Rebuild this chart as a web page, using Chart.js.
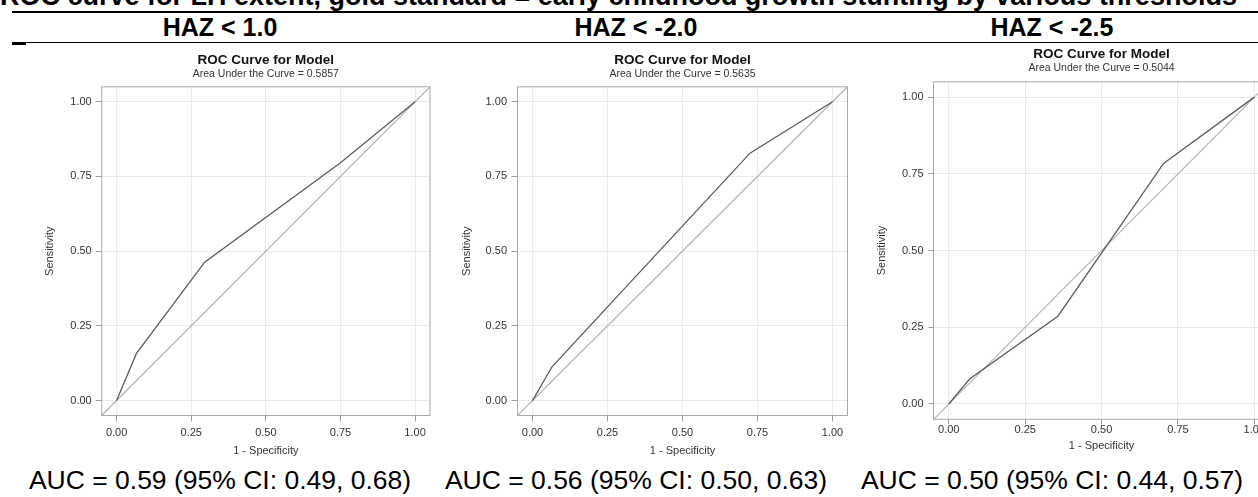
<!DOCTYPE html>
<html>
<head>
<meta charset="utf-8">
<script src="https://cdn.jsdelivr.net/npm/chart.js@4.4.1/dist/chart.umd.min.js"></script>
<style>
  body { margin: 0; width: 1258px; height: 497px; overflow: hidden; background: #fff; position: relative;
         font-family: "Liberation Sans", Arial, sans-serif; color: #000; }
  #title { position: absolute; left: 0; top: -17px; font-size: 27px; line-height: 27px; font-weight: bold; white-space: nowrap; }
  .rule { position: absolute; background: #000; }
  .haz { position: absolute; top: 12px; height: 30px; line-height: 30px; width: 416px; text-align: center; font-size: 25px; font-weight: bold; }
  .auc { position: absolute; top: 465px; height: 30px; line-height: 30px; width: 416px; text-align: center; font-size: 26.5px; white-space: nowrap; }
  canvas { position: absolute; }
</style>
</head>
<body>
<div id="title">ROC curve for LH extent, gold standard = early childhood growth stunting by various thresholds</div>
<div class="rule" style="left:12px; top:11px; width:1246px; height:2px;"></div>
<div class="rule" style="left:12px; top:42px; width:1246px; height:1px;"></div>
<div class="rule" style="left:12px; top:42px; width:14px; height:3px;"></div>
<div id="heads"></div>

<canvas id="roc1" width="433" height="418" style="left:0px; top:46px;"></canvas>
<canvas id="roc2" width="420" height="418" style="left:433px; top:46px;"></canvas>
<canvas id="roc3" width="420" height="420" style="left:853px; top:40px;"></canvas>

<script>
// thresholds and summary statistics
const thresholds = ['HAZ < 1.0', 'HAZ < -2.0', 'HAZ < -2.5'];
const modelAuc = ['0.5857', '0.5635', '0.5044'];
const aucEst = ['0.59', '0.56', '0.50'];
const ciLow = ['0.49', '0.50', '0.44'];
const ciHigh = ['0.68', '0.63', '0.57'];

// ROC curve points (1 - specificity, sensitivity)
const fpr1 = [0, 0.066, 0.295, 0.749, 1];
const tpr1 = [0, 0.157, 0.463, 0.795, 1];
const fpr2 = [0, 0.065, 0.725, 1];
const tpr2 = [0, 0.113, 0.828, 1];
const fpr3 = [0, 0.069, 0.357, 0.703, 1];
const tpr3 = [0, 0.082, 0.286, 0.784, 1];

// chance line and axis ticks
const diagRef = [-0.05, 1.05];
const tickVals = [0, 0.25, 0.5, 0.75, 1];

Chart.defaults.font.family = '"Liberation Sans", Arial, sans-serif';
Chart.defaults.color = '#333';

// column headings and AUC lines under each panel
const heads = document.getElementById('heads');
thresholds.forEach(function (t, i) {
	const h = document.createElement('div');
	h.className = 'haz';
	h.style.left = (12 + i * 416) + 'px';
	h.textContent = t;
	heads.appendChild(h);

	const a = document.createElement('div');
	a.className = 'auc';
	a.style.left = (12 + i * 416) + 'px';
	a.textContent = 'AUC = ' + aucEst[i] + ' (95% CI: ' + ciLow[i] + ', ' + ciHigh[i] + ')';
	heads.appendChild(a);
});

// box around the plot area
const frame = {
	id: 'frame',
	afterDatasetsDraw(chart) {
		const { ctx, chartArea: a } = chart;
		ctx.save();
		ctx.strokeStyle = '#a8a8a8';
		ctx.lineWidth = 1;
		ctx.strokeRect(a.left, a.top, a.width, a.height);
		ctx.restore();
	}
};

function axis(title, g, horizontal) {
	return {
		type: 'linear',
		min: -0.05,
		max: 1.05,
		afterBuildTicks: s => { s.ticks = tickVals.map(v => ({ value: v })); },
		afterFit: s => {
			if (horizontal) s.height = g.xHeight; else s.width = g.yWidth;
		},
		ticks: {
			callback: v => v.toFixed(2),
			padding: horizontal ? g.xTickPad : g.yTickPad,
			color: '#333',
			font: { size: 11 },
			maxRotation: 0,
			autoSkip: false
		},
		grid: { color: '#e9e9e9', tickColor: '#9a9a9a', tickLength: g.tickLen },
		border: { display: false },
		title: {
			display: true,
			text: title,
			color: '#333',
			font: { size: 11 },
			padding: horizontal ? { top: 0, bottom: g.xTitlePad } : { top: g.yTitlePad, bottom: 0 }
		}
	};
}

function rocChart(id, fpr, tpr, auc, g) {
	return new Chart(document.getElementById(id), {
		type: 'scatter',
		data: {
			datasets: [
				{
					data: fpr.map((x, i) => ({ x: x, y: tpr[i] })),
					showLine: true, borderColor: '#5c5c5c', borderWidth: 1.3, pointRadius: 0, order: 0
				},
				{
					data: diagRef.map(v => ({ x: v, y: v })),
					showLine: true, borderColor: '#b4b4b4', borderWidth: 1.2, pointRadius: 0, order: 1
				}
			]
		},
		options: {
			responsive: false,
			animation: false,
			events: [],
			layout: { padding: { left: 0, right: g.padRight, top: 0, bottom: 0 } },
			plugins: {
				legend: { display: false },
				tooltip: { enabled: false },
				title: {
					display: true, text: 'ROC Curve for Model', fullSize: false, color: '#111',
					font: { size: 13.5, weight: 'bold' }, padding: { top: 6, bottom: 0 }
				},
				subtitle: {
					display: true, text: 'Area Under the Curve = ' + auc, fullSize: false, color: '#333',
					font: { size: 10.5 }, padding: { top: 0, bottom: g.subPad }
				}
			},
			scales: {
				x: axis('1 - Specificity', g, true),
				y: axis('Sensitivity', g, false)
			}
		},
		plugins: [frame]
	});
}

rocChart('roc1', fpr1, tpr1, modelAuc[0], {
	yWidth: 101.7, yTitlePad: 43.4, yTickPad: 4, tickLen: 6, padRight: 3,
	xHeight: 48.5, xTickPad: 5, xTitlePad: 6.4, subPad: 6
});
rocChart('roc2', fpr2, tpr2, modelAuc[1], {
	yWidth: 84.5, yTitlePad: 27.4, yTickPad: 4.5, tickLen: 6, padRight: 5.5,
	xHeight: 48.5, xTickPad: 5, xTitlePad: 6.4, subPad: 6
});
rocChart('roc3', fpr3, tpr3, modelAuc[2], {
	yWidth: 80.5, yTitlePad: 22.4, yTickPad: 5, tickLen: 5, padRight: 3.4,
	xHeight: 40.7, xTickPad: -1, xTitlePad: 7.4, subPad: 7
});
</script>
</body>
</html>
